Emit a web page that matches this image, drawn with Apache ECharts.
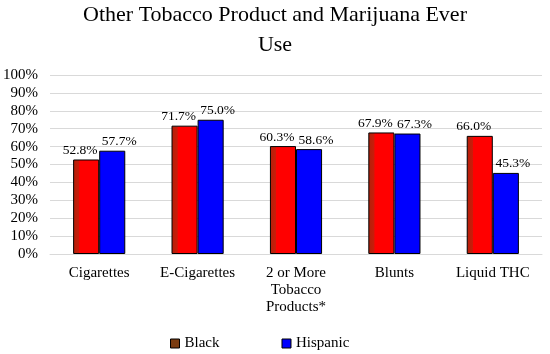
<!DOCTYPE html>
<html><head><meta charset="utf-8">
<script src="https://cdn.jsdelivr.net/npm/echarts@6/dist/echarts.min.js"></script>
<style>html,body{margin:0;padding:0;background:#fff}#c{width:550px;height:354px}</style>
</head><body><div id="c"></div>
<script>
const categories = ["Cigarettes", "E-Cigarettes", "2 or More\nTobacco\nProducts*", "Blunts", "Liquid THC"];
const blackValues = [52.8, 71.7, 60.3, 67.9, 66.0];
const hispanicValues = [57.7, 75.0, 58.6, 67.3, 45.3];
const yTicks = [0, 10, 20, 30, 40, 50, 60, 70, 80, 90, 100];

const serif = '"Liberation Serif", "Times New Roman", serif';
const chart = echarts.init(document.getElementById('c'));
const redGrad = new echarts.graphic.LinearGradient(0, 0, 1, 0, [
  {offset: 0, color: '#b3200a'}, {offset: 0.22, color: '#c81d0a'},
  {offset: 0.25, color: '#ff0000'}, {offset: 1, color: '#ff0000'}
]);
chart.setOption({
  animation: false,
  title: {
    text: 'Other Tobacco Product and Marijuana Ever\nUse',
    left: 'center', top: 0, padding: 0,
    textStyle: {fontFamily: serif, fontSize: 22, fontWeight: 'normal', color: '#000', lineHeight: 30}
  },
  legend: {
    top: 331, left: 165, itemWidth: 9, itemHeight: 9, itemGap: 62, icon: 'rect',
    textStyle: {fontFamily: serif, fontSize: 15, color: '#000'},
    data: [
      {name: 'Black', itemStyle: {color: '#7a3b10', borderColor: '#000', borderWidth: 1}},
      {name: 'Hispanic', itemStyle: {color: '#0000ff', borderColor: '#000', borderWidth: 1}}
    ]
  },
  grid: {left: 50, right: 8, top: 75, bottom: 100},
  xAxis: {
    type: 'category', data: categories,
    axisLine: {lineStyle: {color: '#d9d9d9'}}, axisTick: {show: false},
    axisLabel: {fontFamily: serif, fontSize: 15, color: '#000', lineHeight: 17, margin: 11, interval: 0}
  },
  yAxis: {
    type: 'value', min: 0, max: 100, interval: 10,
    axisLabel: {fontFamily: serif, fontSize: 15, color: '#000', margin: 12,
      formatter: v => yTicks.includes(v) ? v + '%' : ''},
    splitLine: {lineStyle: {color: '#d9d9d9'}},
    axisLine: {show: false}, axisTick: {show: false}
  },
  series: [
    {name: 'Black', type: 'bar', data: blackValues, barGap: '0%', barCategoryGap: '47%',
      itemStyle: {color: redGrad, borderColor: '#000', borderWidth: 1},
      label: {show: true, position: 'top', distance: 2, offset: [-6, 0], fontFamily: serif, fontSize: 13.5, color: '#000',
        formatter: p => p.value.toFixed(1) + '%'}},
    {name: 'Hispanic', type: 'bar', data: hispanicValues,
      itemStyle: {color: '#0000ff', borderColor: '#000', borderWidth: 1},
      label: {show: true, position: 'top', distance: 2, offset: [7, 0], fontFamily: serif, fontSize: 13.5, color: '#000',
        formatter: p => p.value.toFixed(1) + '%'}}
  ]
});
</script></body></html>
